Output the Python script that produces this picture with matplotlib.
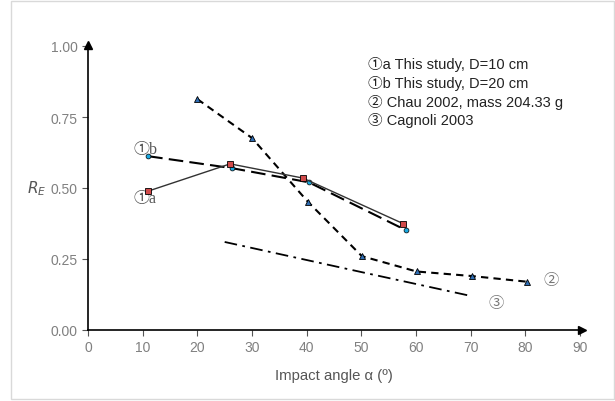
import matplotlib
matplotlib.use("Agg")
import matplotlib.pyplot as plt
from matplotlib.patches import Rectangle

# Data
angle_1a = [11.0, 26.0, 39.3, 57.6]
re_1a = [0.489, 0.585, 0.535, 0.375]
angle_1b = [11.0, 26.3, 40.4, 58.1]
re_1b = [0.612, 0.570, 0.520, 0.352]
angle_2 = [20.0, 30.0, 40.2, 50.1, 60.1, 70.2, 80.3]
re_2 = [0.813, 0.676, 0.452, 0.260, 0.206, 0.190, 0.170]
angle_3 = [25.0, 50.0, 70.0]
re_3 = [0.310, 0.204, 0.120]

legend_lines = ["\u2460a This study, D=10 cm", "\u2460b This study, D=20 cm",
                "\u2461 Chau 2002, mass 204.33 g", "\u2462 Cagnoli 2003"]
xticks = [0, 10, 20, 30, 40, 50, 60, 70, 80, 90]
yticks = [0.0, 0.25, 0.5, 0.75, 1.0]

sans = ['Liberation Sans', 'Noto Sans CJK JP', 'DejaVu Sans']
serif = ['Liberation Serif', 'Noto Sans CJK JP', 'DejaVu Sans']

fig = plt.figure(figsize=(6.15, 4.02), dpi=100)
fig.patches.append(Rectangle((11/615, 2/402), 603/615, 398/402, transform=fig.transFigure,
                             fill=False, edgecolor='#d9d9d9', linewidth=1))
ax = fig.add_axes([88/615, 1-331/402, 492/615, 284/402])

ax.plot(angle_3, re_3, color='black', linestyle=(0, (7, 3, 1.5, 3)), linewidth=1.3)
ax.plot(angle_2, re_2, color='black', linestyle=(0, (3.5, 2.5)), linewidth=1.5,
        marker='^', markersize=4.5, markerfacecolor='#2e6db4', markeredgecolor='black',
        markeredgewidth=0.6, zorder=3)
ax.plot(angle_1b, re_1b, color='black', linestyle=(0, (7, 3)), linewidth=1.5,
        marker='o', markersize=3.5, markerfacecolor='#19a8e0', markeredgecolor='black',
        markeredgewidth=0.5, zorder=4)
ax.plot(angle_1a, re_1a, color='#333333', linestyle='-', linewidth=1.0,
        marker='s', markersize=4.8, markerfacecolor='#d04a4a', markeredgecolor='black',
        markeredgewidth=0.6, zorder=5)

ax.set_xlim(0, 90)
ax.set_ylim(0, 1.0)
ax.set_xticks(xticks)
ax.set_xticklabels([str(t) for t in xticks])
ax.set_yticks(yticks)
ax.set_yticklabels([f"{t:.2f}" for t in yticks])
ax.tick_params(direction='out', length=4, width=0.8, colors='#555555', labelsize=10,
               labelcolor='#808080')
for lab in ax.get_xticklabels() + ax.get_yticklabels():
    lab.set_family(sans)
ax.spines['top'].set_visible(False)
ax.spines['right'].set_visible(False)
for s in ('left', 'bottom'):
    ax.spines[s].set_linewidth(1.2)
    ax.spines[s].set_color('black')
ax.plot(1.004, 0, marker='>', color='black', markersize=6, transform=ax.transAxes, clip_on=False)
ax.plot(0, 1.004, marker='^', color='black', markersize=6, transform=ax.transAxes, clip_on=False)

ax.set_xlabel("Impact angle \u03b1 (\u00ba)", family=sans, fontsize=10.7, color='#555555', labelpad=10)
ax.set_ylabel("$R_E$", fontsize=11, color='#555555', rotation=0, labelpad=10, va='center')

for i, t in enumerate(legend_lines):
    ax.text(51.2, 0.937 - i * 0.0655, t, family=sans, fontsize=10.5, color='#222222', va='center')

ax.text(8.4, 0.637, "\u2460b", family=serif, fontsize=11.5, color='#555555', va='center')
ax.text(8.4, 0.465, "\u2460a", family=serif, fontsize=11.5, color='#555555', va='center')
ax.text(84.7, 0.176, "\u2461", family=sans, fontsize=11, color='#777777', va='center', ha='center')
ax.text(74.6, 0.095, "\u2462", family=sans, fontsize=11, color='#777777', va='center', ha='center')

fig.savefig("out.png", dpi=100)
